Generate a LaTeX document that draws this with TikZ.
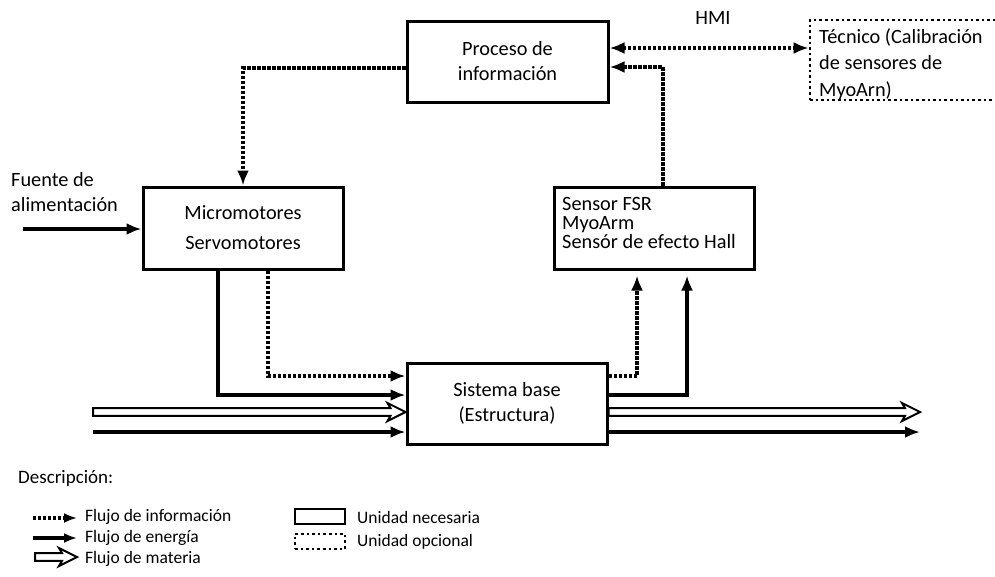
\documentclass[tikz,border=0pt]{standalone}
\usepackage{fontspec}
\setmainfont{Carlito}
\usetikzlibrary{arrows.meta,calc}
\newcommand\matarrow[2]{%
  \draw[line width=2pt, fill=white, line join=miter]
    let \p1=(#1), \p2=(#2) in
    (\x1,\y1-3.8pt) -- (\x2-15pt,\y1-3.8pt) -- (\x2-18pt,\y1-9pt) -- (\x2,\y1)
    -- (\x2-18pt,\y1+9pt) -- (\x2-15pt,\y1+3.8pt) -- (\x1,\y1+3.8pt) -- cycle;}
\tikzset{
  ubox/.style={draw, line width=3pt, inner sep=0pt, align=center,
    font=\fontsize{20.3}{25}\selectfont},
  obox/.style={draw, line width=2.8pt, dash pattern=on 2.6pt off 3pt, inner sep=0pt},
  lbl/.style={inner sep=0pt, font=\fontsize{20.3}{25}\selectfont},
  leg/.style={inner sep=0pt, anchor=west, font=\fontsize{17.5}{21}\selectfont},
  tip/.style={-{Latex[length=15pt,width=12pt]}},
  energy/.style={line width=3.2pt, tip},
  info/.style={line width=3.2pt, dash pattern=on 3.2pt off 1.8pt, tip},
}
\begin{document}
\begin{tikzpicture}[x=1pt,y=-1pt]
\useasboundingbox (0,0) rectangle (995,576);
% boxes
\node[ubox, minimum width=201pt, minimum height=81pt] (proc) at (507.5,61.5) {Proceso de\\información};
\node[obox, minimum width=190pt, minimum height=80pt] (tec) at (905,60) {};
\node[lbl, anchor=north west, align=left, font=\fontsize{20.3}{26.5}\selectfont] (tect) at (819,28) {Técnico (Calibración\\de sensores de\\MyoArn)};
\node[lbl] (hmi) at (713,18) {HMI};
\node[ubox, minimum width=200pt, minimum height=82pt, font=\fontsize{20.3}{30}\selectfont] (micro) at (243,228) {Micromotores\\Servomotores};
\node[ubox, minimum width=200pt, minimum height=82pt] (sens) at (654,228) {};
\node[lbl, anchor=north west, align=left, font=\fontsize{20.3}{19}\selectfont] (senst) at (562,197.5) {Sensor FSR\\MyoArm\\Sensór de efecto Hall};
\node[ubox, minimum width=200pt, minimum height=81pt] (sist) at (507,403.5) {Sistema base\\(Estructura)};
\node[lbl, anchor=west, align=left] (fuente) at (11,192.5) {Fuente de\\alimentación};
\coordinate (fsrc) at (23,229);
\coordinate (minL) at (93,412);
\coordinate (einL) at (93,432);
\coordinate (moutR) at (920,412);
\coordinate (eoutR) at (920,432);
% connectors
\draw[info, {Latex[length=15pt,width=12pt]}-{Latex[length=15pt,width=12pt]}] (proc.east |- 0,48) -- (tec.west |- 0,48);
\draw[info] (sens.north -| 663,0) |- (proc.east |- 0,67);
\draw[info] (proc.west |- 0,68) -| (micro.north);
\draw[energy] (fsrc) -- (micro.west |- fsrc);
\draw[energy] (micro.south -| 218,0) |- (sist.west |- 0,395);
\draw[info] (micro.south -| 268,0) |- (sist.west |- 0,376);
\matarrow{minL}{sist.west |- minL}
\draw[energy] (einL) -- (sist.west |- einL);
\draw[info, shorten >=5pt] (sist.east |- 0,376) -| (sens.south -| 637,0);
\draw[energy, shorten >=5pt] (sist.east |- 0,395) -| (sens.south -| 687,0);
\matarrow{sist.east |- moutR}{moutR}
\draw[energy] (sist.east |- eoutR) -- (eoutR);
% legend
\node[leg, font=\fontsize{19}{21}\selectfont] (desc) at (18,478) {Descripción:};
\coordinate (l1a) at (33,518); \coordinate (l1b) at (77,518);
\coordinate (l2a) at (33,538); \coordinate (l2b) at (77,538);
\coordinate (l3a) at (35,557); \coordinate (l3b) at (77,557);
\draw[info, -{Latex[length=13pt,width=10pt]}] (l1a) -- (l1b);
\draw[energy, -{Latex[length=13pt,width=10pt]}] (l2a) -- (l2b);
\matarrow{l3a}{l3b}
\node[leg] (t1) at (85,517) {Flujo de información};
\node[leg] (t2) at (85,538) {Flujo de energía};
\node[leg] (t3) at (85,559) {Flujo de materia};
\node[ubox, line width=2.4pt, minimum width=50pt, minimum height=15pt] (lb1) at (320,516.5) {};
\node[obox, line width=2.4pt, minimum width=50pt, minimum height=15pt] (lb2) at (320,541.5) {};
\node[leg] (t4) at (357,517) {Unidad necesaria};
\node[leg] (t5) at (357,542) {Unidad opcional};
\end{tikzpicture}
\end{document}
